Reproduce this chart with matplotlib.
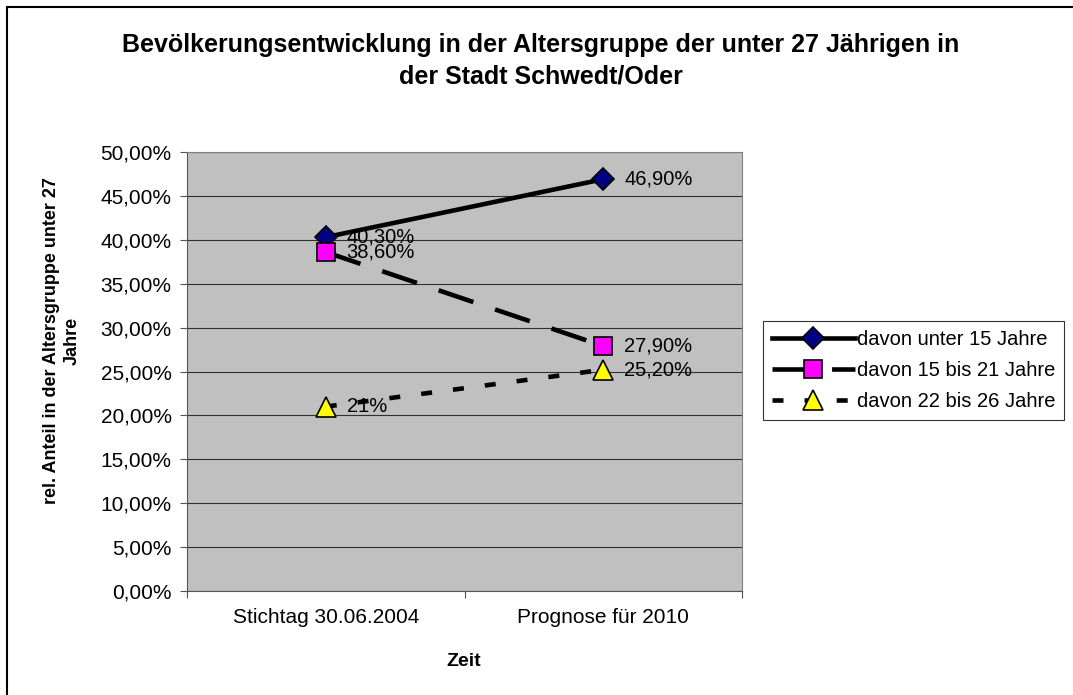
import matplotlib
matplotlib.use("Agg")
import matplotlib.pyplot as plt
from matplotlib.ticker import MultipleLocator, FuncFormatter
import matplotlib.patches as mpatches

plt.rcParams['font.family'] = ['Liberation Sans', 'DejaVu Sans']

categories = ["Stichtag 30.06.2004", "Prognose für 2010"]
series_names = ["davon unter 15 Jahre", "davon 15 bis 21 Jahre", "davon 22 bis 26 Jahre"]
unter15 = [40.3, 46.9]
s15_21 = [38.6, 27.9]
s22_26 = [21.0, 25.2]
labels_unter15 = ["40,30%", "46,90%"]
labels_15_21 = ["38,60%", "27,90%"]
labels_22_26 = ["21%", "25,20%"]

fig = plt.figure(figsize=(10.73, 6.95), dpi=100)
# outer frame
fig.patches.append(mpatches.Rectangle((7/1073, -0.01), 1.1, (695-7)/695 + 0.01, transform=fig.transFigure,
                                      fill=False, edgecolor='black', linewidth=1.5))

ax = fig.add_axes([187/1073, (695-591)/695, 555/1073, 439/695])
ax.set_facecolor('#C0C0C0')
ax.set_xlim(0, 2)
ax.set_ylim(0, 50)
ax.yaxis.set_major_locator(MultipleLocator(5))
ax.yaxis.set_major_formatter(FuncFormatter(lambda v, p: f"{v:.2f}%".replace('.', ',')))
ax.grid(axis='y', color='#000000', linewidth=0.8, alpha=0.75)
ax.set_axisbelow(True)
ax.set_xticks([0, 1, 2])
ax.set_xticklabels([])
ax.set_xticks([0.5, 1.5], minor=True)
ax.set_xticklabels(categories, minor=True, fontsize=15)
ax.tick_params(axis='x', which='minor', length=0, pad=12)
ax.tick_params(axis='x', which='major', length=5, direction='out', color='#555555')
ax.tick_params(axis='y', length=5, direction='out', labelsize=15, color='#555555', pad=6)
for s in ['top', 'right']:
    ax.spines[s].set_color('#808080')
for s in ['left', 'bottom']:
    ax.spines[s].set_color('#555555')

x = [0.5, 1.5]
ax.plot(x, unter15, color='black', linewidth=3.3, marker='D', markersize=11,
        markerfacecolor='#000080', markeredgecolor='black', markeredgewidth=1.2,
        label=series_names[0], zorder=3)
ax.plot(x, s15_21, color='black', linewidth=3.3, dashes=(8, 5), marker='s', markersize=13,
        markerfacecolor='#FF00FF', markeredgecolor='black', markeredgewidth=1.2,
        label=series_names[1], zorder=3)
ax.plot(x, s22_26, color='black', linewidth=3.3, dashes=(2.4, 4.6), marker='^', markersize=14,
        markerfacecolor='#FFFF00', markeredgecolor='black', markeredgewidth=1.2,
        label=series_names[2], zorder=3)

for vals, labs in [(unter15, labels_unter15), (s15_21, labels_15_21), (s22_26, labels_22_26)]:
    for xi, v, l in zip(x, vals, labs):
        ax.annotate(l, (xi, v), xytext=(15, 0), textcoords='offset points',
                    ha='left', va='center', fontsize=14.5, zorder=4)

fig.text(541/1073, 1 - 45/695, "Bevölkerungsentwicklung in der Altersgruppe der unter 27 Jährigen in",
         ha='center', va='center', fontsize=18, fontweight='bold')
fig.text(541/1073, 1 - 77/695, "der Stadt Schwedt/Oder",
         ha='center', va='center', fontsize=18, fontweight='bold')
fig.text(62/1073, 1 - 341/695, "rel. Anteil in der Altersgruppe unter 27\nJahre",
         ha='center', va='center', rotation=90, fontsize=13, fontweight='bold', linespacing=1.25)
fig.text(464/1073, 1 - 661/695, "Zeit", ha='center', va='center', fontsize=14, fontweight='bold')

leg = fig.legend(loc='upper left', bbox_to_anchor=(763/1073, 1 - 321/695), frameon=True,
                 fancybox=False, edgecolor='black', fontsize=14.5, handlelength=4.1,
                 numpoints=1, borderpad=0.45, labelspacing=0.6, handletextpad=0.1,
                 borderaxespad=0)
leg.get_frame().set_linewidth(0.8)

fig.savefig("out.png", dpi=100)
